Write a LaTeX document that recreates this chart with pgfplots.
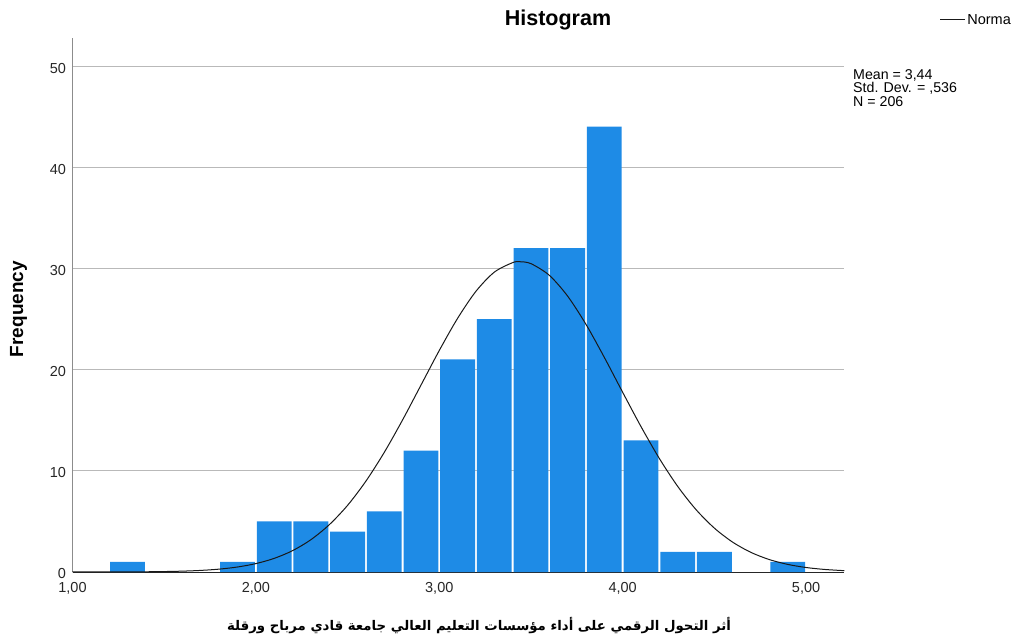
\documentclass[border=0pt]{standalone}
\usepackage{fontspec}
\setmainfont{Liberation Sans}
\newfontfamily\arabicfont[Script=Arabic]{DejaVu Sans}
\TeXXeTstate=1
\usepackage{pgfplots}
\pgfplotsset{compat=1.18}
\definecolor{barblue}{RGB}{30,139,230}
\definecolor{gridgray}{RGB}{185,185,185}
\begin{document}
\begin{tikzpicture}
\path[use as bounding box] (-72.5bp,-67bp) rectangle (938.5bp,572bp);
\begin{axis}[
  scale only axis,
  width=771.5bp, height=534bp,
  xmin=1, xmax=5.207, ymin=0, ymax=52.77,
  axis x line*=bottom, axis y line*=left,
  x axis line style={black!85, line width=1bp},
  y axis line style={black!45, line width=1bp},
  xtick={1,2,3,4,5}, ytick={0,10,20,30,40,50},
  major tick length=0pt,
  ymajorgrids, grid style={gridgray, line width=1bp},
  /pgf/number format/assume math mode=true,
  xticklabel style={/pgf/number format/fixed, /pgf/number format/fixed zerofill, /pgf/number format/precision=2, /pgf/number format/use comma, yshift=-7bp},
  yticklabel style={/pgf/number format/fixed, /pgf/number format/precision=0, xshift=-3bp, yshift=-2bp},
  tick label style={font=\fontsize{14.5bp}{14.5bp}\selectfont, text=black!85},
  every axis title shift=0pt,
  title={Histogram},
  title style={font=\fontsize{21.5bp}{21.5bp}\selectfont\bfseries, at={(axis description cs:0.6293,1.0337)}, anchor=center},
  ylabel={Frequency},
  ylabel style={font=\fontsize{19bp}{19bp}\selectfont\bfseries, at={(axis description cs:-0.0700,0.4925)}, anchor=center},
  xlabel={\arabicfont\bfseries\beginR أثر التحول الرقمي على أداء مؤسسات التعليم العالي جامعة قادي مرباح ورقلة\endR},
  xlabel style={font=\fontsize{13.3bp}{13.3bp}\selectfont, at={(axis description cs:0.527,-0.101)}, anchor=center},
  legend style={at={(axis description cs:1.1240,1.0337)}, anchor=west, draw=none, fill=none, inner sep=0pt,
    font=\fontsize{14.5bp}{14.5bp}\selectfont, nodes={inner sep=1.5bp}},
  legend image code/.code={\draw[#1] (0bp,0bp) -- (25bp,0bp);},
  clip=false,
]
\addplot[ybar, bar width=0.19, fill=barblue, draw=none, forget plot] coordinates {
  (1.3,1) (1.9,1) (2.1,5) (2.3,5) (2.5,4) (2.7,6) (2.9,12) (3.1,21) (3.3,25)
  (3.5,32) (3.7,32) (3.9,44) (4.1,13) (4.3,2) (4.5,2) (4.9,1)
};
\addplot[black!90, line width=1bp, smooth, mark=none] coordinates {
  (1.0,0.001) (1.1,0.002) (1.2,0.005) (1.3,0.011) (1.4,0.022) (1.5,0.044) (1.6,0.085)
  (1.7,0.158) (1.8,0.284) (1.9,0.495) (2.0,0.830) (2.1,1.347) (2.2,2.111)
  (2.3,3.194) (2.4,4.670) (2.5,6.587) (2.6,8.980) (2.7,11.82) (2.8,15.03)
  (2.9,18.46) (3.0,21.89) (3.1,25.07) (3.2,27.74) (3.3,29.63) (3.4,30.57)
  (3.44,30.66) (3.5,30.47) (3.6,29.32) (3.7,27.26) (3.8,24.47) (3.9,21.21)
  (4.0,17.76) (4.1,14.37) (4.2,11.22) (4.3,8.465) (4.4,6.166) (4.5,4.338)
  (4.6,2.947) (4.7,1.934) (4.8,1.226) (4.9,0.751) (5.0,0.444) (5.1,0.254)
  (5.2,0.140) (5.207,0.133)
};
\addlegendentry{Norma}
\end{axis}
\node[anchor=north west, inner sep=0pt, align=left, font=\fontsize{14.2bp}{13.6bp}\selectfont]
  at (780.5bp,503bp) {Mean = 3,44\\Std. Dev. = ,536\\N = 206};
\end{tikzpicture}
\end{document}
